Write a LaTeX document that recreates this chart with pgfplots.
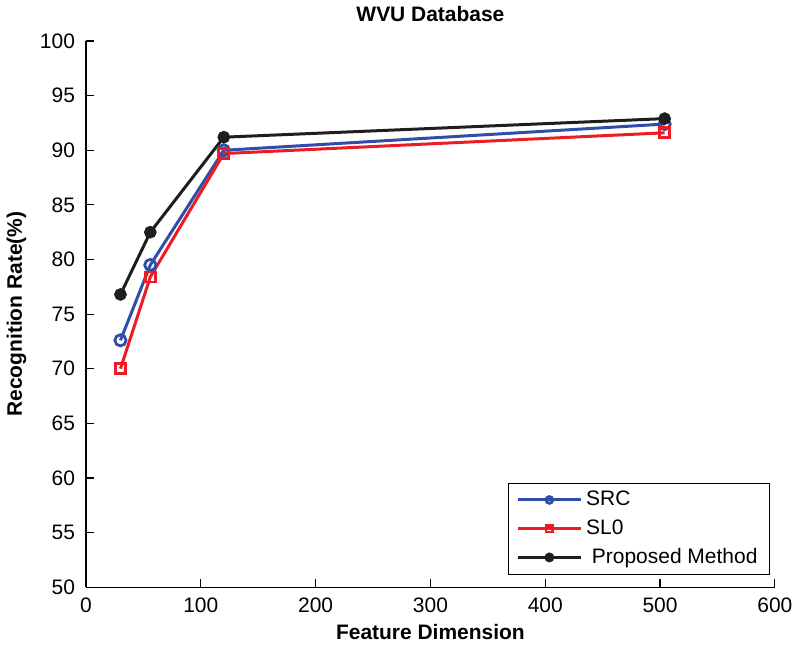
\documentclass[border=0pt]{standalone}
\usepackage{fontspec}
\setmainfont{Liberation Sans}
\usepackage{pgfplots}
\pgfplotsset{compat=1.18}
\definecolor{srcblue}{RGB}{46,78,170}
\definecolor{slred}{RGB}{237,28,36}
\definecolor{pmblack}{RGB}{30,30,30}
\begin{document}
\begin{tikzpicture}
\begin{axis}[
  scale only axis,
  width=345pt, height=273.5pt,
  xmin=0, xmax=600, ymin=50, ymax=100,
  xtick={0,100,...,600}, ytick={50,55,...,100},
  axis x line*=bottom, axis y line*=left,
  axis line style={-, line width=0.6pt},
  tick align=inside, major tick length=4pt,
  tick style={line width=0.6pt, black},
  /pgf/number format/assume math mode=true,
  ticklabel style={font=\fontsize{10.5}{12}\selectfont},
  yticklabel style={xshift=-2pt},
  xticklabel style={yshift=-2pt},
  title={\textbf{WVU Database}},
  title style={font=\fontsize{10.5}{12}\selectfont, yshift=0pt},
  xlabel={\textbf{Feature Dimension}},
  ylabel={\textbf{Recognition Rate(\%)}},
  label style={font=\fontsize{10.5}{12}\selectfont},
  xlabel style={yshift=1pt},
  ylabel style={yshift=0pt},
  legend style={at={(0.993,0.022)}, anchor=south east,
    font=\fontsize{10.5}{12}\selectfont, draw=black, line width=0.6pt,
    row sep=1.5pt, inner xsep=4pt, inner ysep=2pt},
  legend cell align=left,
  legend image code/.code={
    \draw[#1] (0cm,0cm) -- (1.1cm,0cm);
    \draw[#1, mark size=1.7pt, mark repeat=2, mark phase=2] plot coordinates {(0cm,0cm) (0.55cm,0cm) (1.1cm,0cm)};
  },
]
\addplot[srcblue, line width=1.5pt, mark=o, mark size=2.8pt, mark options={line width=1.4pt, fill=white}]
  coordinates {(30,72.6) (56,79.5) (120,90.0) (504,92.4)};
\addlegendentry{SRC}
\addplot[slred, line width=1.5pt, mark=square, mark size=2.5pt, mark options={line width=1.4pt, fill=white}]
  coordinates {(30,70.0) (56,78.4) (120,89.7) (504,91.6)};
\addlegendentry{SL0}
\addplot[pmblack, line width=1.5pt, mark=*, mark size=2.4pt]
  coordinates {(30,76.8) (56,82.5) (120,91.2) (504,92.9)};
\addlegendentry{\ Proposed Method}
\end{axis}
\end{tikzpicture}
\end{document}
